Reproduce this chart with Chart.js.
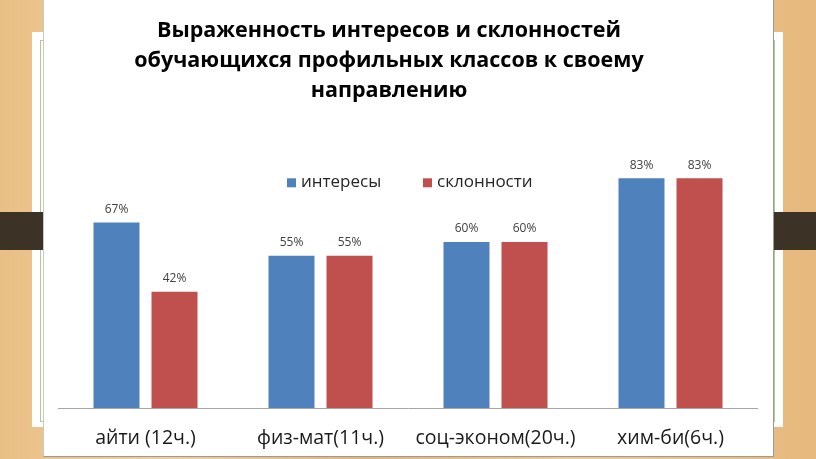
<!DOCTYPE html>
<html lang="ru">
<head>
<meta charset="UTF-8">
<title>Выраженность интересов и склонностей</title>
<script src="https://cdn.jsdelivr.net/npm/chart.js"></script>
<style>
    body {
        margin: 0;
        width: 816px;
        height: 459px;
        overflow: hidden;
        position: relative;
        background: linear-gradient(90deg, #e9bf86 0%, #f1cf9c 20%, #e3b378 45%, #efc992 70%, #e6b87e 100%);
    }
    #paper {
        position: absolute;
        left: 32px; top: 32px;
        width: 751px; height: 395px;
        background: #fff;
    }
    #paper-line {
        position: absolute;
        left: 40px; top: 40px;
        width: 733px; height: 380px;
        border: 1px solid #b5c98a;
    }
    .band {
        position: absolute;
        top: 212px; height: 38px;
        background: #3d3226;
    }
    #box {
        position: absolute;
        left: 43px; top: 0;
        width: 729px; height: 456px;
        background: #fff;
        border-right: 1px solid #9a9a9a;
        border-bottom: 1px solid #9a9a9a;
        border-left: 1px solid #c8c8c8;
    }
    #chart-wrap {
        position: absolute;
        left: 20px; top: 0;
        width: 738px; height: 457px;
    }
</style>
</head>
<body>
<div id="paper"></div>
<div id="paper-line"></div>
<div class="band" style="left:0;width:44px"></div>
<div class="band" style="left:773px;width:43px"></div>
<div id="box"></div>
<div id="chart-wrap"><canvas id="chart"></canvas></div>

<script>
    // данные диаграммы
    const titleLines = [
        'Выраженность интересов и склонностей',
        'обучающихся профильных классов к своему',
        'направлению'
    ];
    const categories = ['айти (12ч.)', 'физ-мат(11ч.)', 'соц-эконом(20ч.)', 'хим-би(6ч.)'];
    const interests = [67, 55, 60, 83];
    const inclinations = [42, 55, 60, 83];
    const seriesNames = ['интересы', 'склонности'];
    const seriesColors = ['#4f81bd', '#c0504d'];

    const FONT = '"Open Sans", "Noto Sans", sans-serif';

    // подписи значений над столбцами и легенда внутри области построения
    const labelsPlugin = {
        id: 'labelsAndLegend',
        afterDatasetsDraw(chart) {
            const ctx = chart.ctx;
            ctx.save();
            ctx.font = '12px ' + FONT;
            ctx.fillStyle = '#404040';
            ctx.textAlign = 'center';
            ctx.textBaseline = 'middle';
            chart.data.datasets.forEach((ds, i) => {
                chart.getDatasetMeta(i).data.forEach((bar, j) => {
                    ctx.fillText(ds.data[j] + '%', bar.x, bar.y - 13);
                });
            });

            // легенда
            const area = chart.chartArea;
            const y = area.top + 51;
            const starts = [229, 365];
            ctx.font = '17px ' + FONT;
            ctx.textAlign = 'left';
            chart.data.datasets.forEach((ds, i) => {
                const x = area.left + starts[i];
                ctx.fillStyle = ds.backgroundColor;
                ctx.fillRect(x, y - 4, 9, 9);
                ctx.fillStyle = '#262626';
                ctx.fillText(ds.label, x + 14, y);
            });
            ctx.restore();
        }
    };

    new Chart(document.getElementById('chart'), {
        type: 'bar',
        data: {
            labels: categories,
            datasets: [
                { label: seriesNames[0], data: interests, backgroundColor: seriesColors[0] },
                { label: seriesNames[1], data: inclinations, backgroundColor: seriesColors[1] }
            ]
        },
        options: {
            responsive: true,
            maintainAspectRatio: false,
            animation: false,
            categoryPercentage: 0.663,
            barPercentage: 0.793,
            layout: { padding: 0 },
            plugins: {
                legend: { display: false },
                tooltip: { enabled: false },
                title: {
                    display: true,
                    text: titleLines,
                    color: '#000',
                    font: { family: FONT, size: 21.5, weight: 'bold', lineHeight: 1.4 },
                    padding: { top: 16, bottom: 25 }
                }
            },
            scales: {
                x: {
                    grid: { display: false, drawTicks: false },
                    border: { display: true, color: '#a6a6a6', width: 1 },
                    ticks: {
                        color: '#1a1a1a',
                        padding: 19,
                        font: { family: FONT, size: 19.5 }
                    },
                    afterFit(scale) { scale.height = 49; }
                },
                y: {
                    min: 0,
                    max: 100,
                    grid: { display: false, drawTicks: false },
                    border: { display: false },
                    ticks: { display: false },
                    afterFit(scale) { scale.width = 38; }
                }
            }
        },
        plugins: [labelsPlugin]
    });
</script>
</body>
</html>
